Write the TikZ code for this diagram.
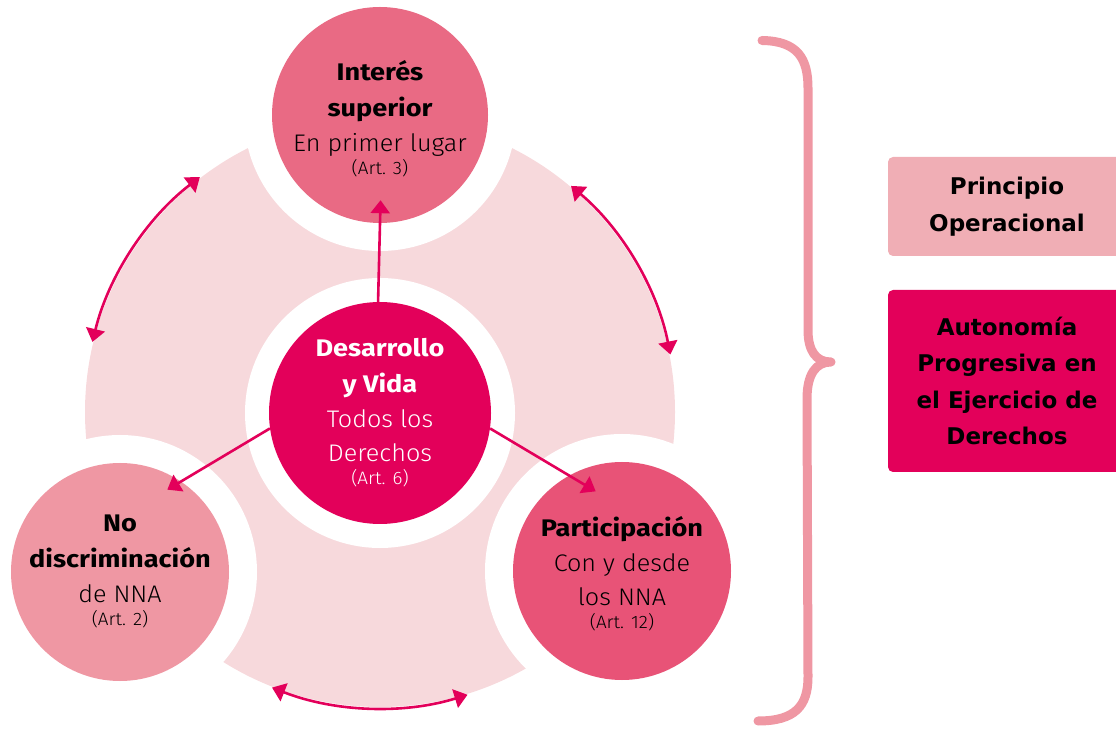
\documentclass[tikz,border=0pt]{standalone}
\usepackage{fontspec}
\setmainfont{Fira Sans}[UprightFont={* Light}, BoldFont={* Bold},
  UprightFeatures={FakeStretch=1.05}, BoldFeatures={FakeStretch=1.13}]
\newfontfamily\boxfont{DejaVu Sans}
\usetikzlibrary{arrows.meta}
\definecolor{mag}{HTML}{E3005A}
\definecolor{disk}{HTML}{F7D9DC}
\definecolor{ctop}{HTML}{E96A84}
\definecolor{cbl}{HTML}{EF97A3}
\definecolor{cbr}{HTML}{E85377}
\definecolor{cbox}{HTML}{F0AEB5}
\definecolor{cbrace}{HTML}{EF97A3}
\begin{document}
\begin{tikzpicture}[x=1pt,y=1pt,
  circ/.style={circle, inner sep=0pt, minimum size=#1},
  halo/.style={preaction={draw=white, line width=#1}},
  txt/.style={align=center, inner sep=0pt, font=\fontsize{24}{35}\selectfont},
  txtw/.style={txt, text=white},
  arr/.style={draw=mag, line width=2.6pt, arrows={-Triangle[length=13pt,width=19pt]}},
  arcarr/.style={draw=mag, line width=2.6pt, arrows={Triangle[length=13pt,width=19pt]-Triangle[length=13pt,width=19pt]}},
  box/.style={rounded corners=5pt, minimum width=238pt, inner sep=0pt, align=center,
    font={\boxfont\bfseries\fontsize{23}{36.5}\selectfont}},
  bracestyle/.style={draw=cbrace, line width=9pt, line cap=round, line join=round}]
\newcommand{\artf}{\fontsize{18}{20}\selectfont}
\useasboundingbox (0,0) rectangle (1116,734);
\coordinate (C) at (380,322);
\fill[disk] (C) circle[radius=295pt];
% circles
\node[circ=216pt, fill=ctop, halo=56pt] (top) at (380,619) {};
\node[circ=218pt, fill=cbl, halo=56pt] (bl) at (120,162) {};
\node[circ=218pt, fill=cbr, halo=56pt] (br) at (622,163) {};
\node[circ=222pt, fill=mag, halo=48pt] (cen) at (380,321) {};
% texts
\node[txt] (toptx) at (380,615) {{\bfseries Interés}\\[1pt]{\bfseries superior}\\En primer lugar\\[-12pt]{\artf (Art. 3)}};
\node[txtw] (centx) at (380,321) {{\bfseries Desarrollo}\\[1pt]{\bfseries y Vida}\\Todos los\\[-1pt]Derechos\\[-12pt]{\artf (Art. 6)}};
\node[txt] (bltx) at (120,162.5) {{\bfseries No}\\[1pt]{\bfseries discriminación}\\de NNA\\[-12pt]{\artf (Art. 2)}};
\node[txt] (brtx) at (622,160) {{\bfseries Participación}\\Con y desde\\[-1pt]los NNA\\[-12pt]{\artf (Art. 12)}};
% straight arrows
\draw[arr, shorten >=-23pt] (cen.91) -- (top.270);
\draw[arr, shorten >=-16pt] (cen.188) -- (bl.56);
\draw[arr, shorten >=-31pt] (cen.352) -- (br.119);
% arc arrows
\draw[arcarr] ([shift={(127.5:296pt)}]C) arc[start angle=127.5, end angle=166.3, radius=296pt];
\draw[arcarr] ([shift={(11.2:296pt)}]C) arc[start angle=11.2, end angle=49.8, radius=296pt];
\draw[arcarr] ([shift={(248.6:296pt)}]C) arc[start angle=248.6, end angle=287.2, radius=296pt];
% brace
\draw[bracestyle] (762,693.5) .. controls (798,693) and (808,675) .. (808,646) -- (808,404) .. controls (808,383) and (816,372) .. (831,372) .. controls (816,372) and (807,360) .. (807,335) -- (808,57) .. controls (808,28) and (795,13) .. (758,13);
% boxes
\node[box, fill=cbox, minimum height=99pt] (p1) at (1007,527.5) {Principio\\Operacional};
\node[box, fill=mag, minimum height=182pt] (p2) at (1007,353) {Autonomía\\Progresiva en\\el Ejercicio de\\Derechos};
\end{tikzpicture}
\end{document}
